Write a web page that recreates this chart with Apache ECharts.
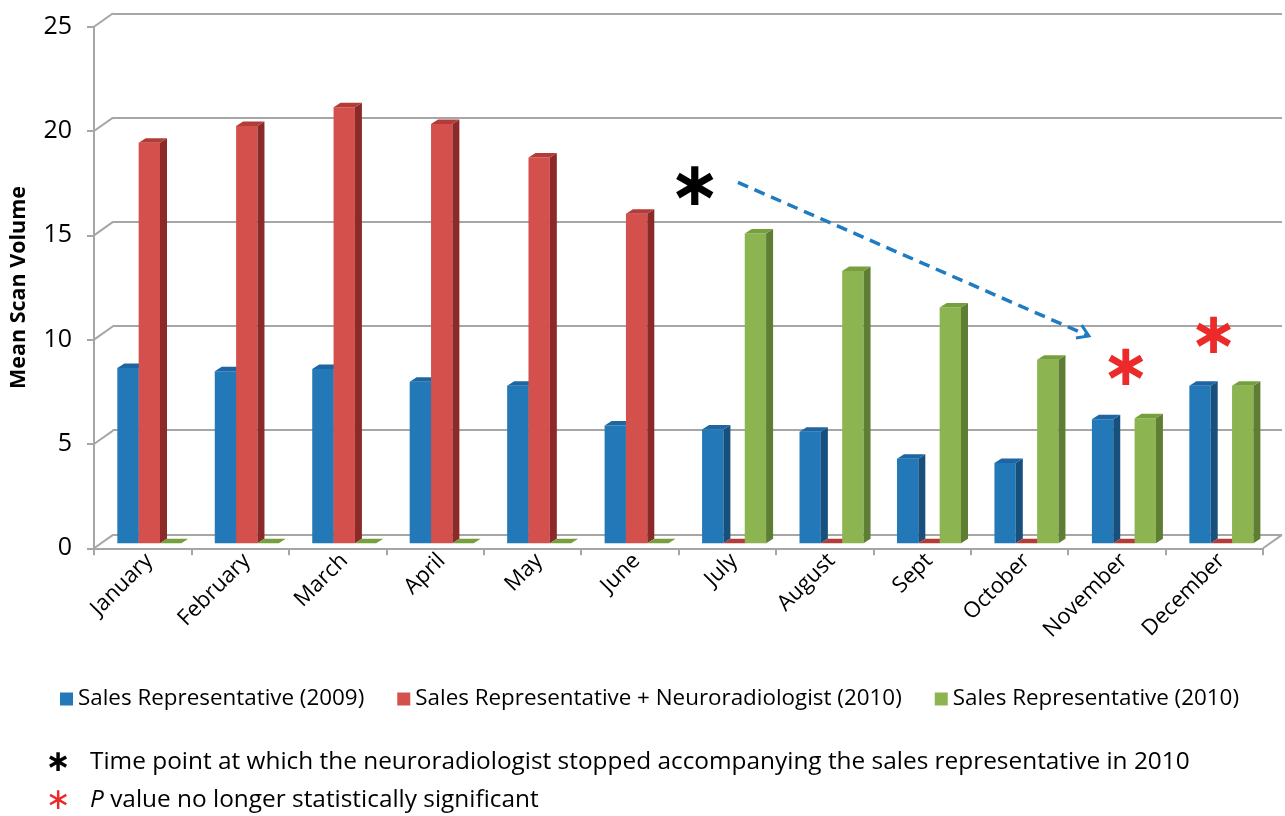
<!DOCTYPE html>
<html><head><meta charset="utf-8">
<script src="https://cdn.jsdelivr.net/npm/echarts@6/dist/echarts.min.js"></script>
<style>html,body{margin:0;padding:0;background:#fff}#c{width:1285px;height:816px}</style>
</head><body><div id="c"></div>
<script>
// ---------- data ----------
const months = ['January','February','March','April','May','June','July','August','Sept','October','November','December'];
const rep2009 = [8.4, 8.25, 8.35, 7.75, 7.55, 5.65, 5.45, 5.35, 4.05, 3.85, 5.95, 7.55];
const repNeuro2010 = [19.2, 20.0, 20.9, 20.1, 18.5, 15.8, 0, 0, 0, 0, 0, 0];
const rep2010 = [0, 0, 0, 0, 0, 0, 14.85, 13.05, 11.3, 8.8, 6.0, 7.55];
const seriesNames = ['Sales Representative (2009)', 'Sales Representative + Neuroradiologist (2010)', 'Sales Representative (2010)'];
const yTicks = [0, 5, 10, 15, 20, 25];
const yTitle = 'Mean Scan Volume';
const note1 = 'Time point at which the neuroradiologist stopped accompanying the sales representative in 2010';
const note2 = ' value no longer statistically significant';
// annotation anchors (category index, value)
const stopMark = [5.6, 17.0];
const arrowFrom = [6.04, 17.3];
const arrowTo = [9.64, 9.94];
const redMarks = [[10.02, 8.3], [10.92, 9.84]];

// ---------- styles ----------
const FONT = 'Open Sans';
const GRAY = '#a6a6a6';
const palette = [
  {front:'#2379b7', side:'#17507d', top:'#1d66a3'},
  {front:'#d4504d', side:'#8b2a29', top:'#b33c39'},
  {front:'#8cb451', side:'#5e7e34', top:'#75a03d'}
];
const BAR_RATIO = 0.219, BAR_DX = 7, BAR_DY = 4.5;
const WALL_DX = 19, WALL_DY = 13.4;

function barRender(k){
  const c = palette[k];
  return function(params, api){
    const idx = api.value(0), v = api.value(1);
    const base = api.coord([idx, 0]);
    const top = api.coord([idx, v]);
    const band = api.size([1, 0])[0];
    const w = band * BAR_RATIO;
    const x0 = base[0] + (k - 1.5) * w, x1 = x0 + w;
    const yb = base[1], yt = top[1];
    const ch = [];
    if (yb - yt > 0.5) {
      ch.push({type:'rect', shape:{x:x0, y:yt, width:w, height:yb-yt}, style:{fill:c.front}});
      ch.push({type:'polygon', shape:{points:[[x1,yt],[x1+BAR_DX,yt-BAR_DY],[x1+BAR_DX,yb-BAR_DY],[x1,yb]]}, style:{fill:c.side}});
    }
    ch.push({type:'polygon', shape:{points:[[x0,yt],[x1,yt],[x1+BAR_DX,yt-BAR_DY],[x0+BAR_DX,yt-BAR_DY]]}, style:{fill:c.top}});
    return {type:'group', children:ch};
  };
}

function wallRender(params, api){
  const v = api.value(1);
  const p = api.coord([0, v]);
  const band = api.size([1, 0])[0];
  const left = p[0] - band / 2;
  const ls = {stroke: GRAY, lineWidth: 2};
  const ch = [{type:'line', shape:{x1:left, y1:p[1], x2:left+WALL_DX, y2:p[1]-WALL_DY}, style:ls}];
  if (v === 0) {
    const right = api.coord([months.length - 1, 0])[0] + band / 2;
    ch.push({type:'line', shape:{x1:right, y1:p[1], x2:right+WALL_DX, y2:p[1]-WALL_DY}, style:ls});
  }
  return {type:'group', children:ch};
}

const series = [rep2009, repNeuro2010, rep2010].map((arr, k) => ({
  type:'custom', name: seriesNames[k], xAxisIndex:0, yAxisIndex:0,
  renderItem: barRender(k), itemStyle:{color: palette[k].front},
  data: arr.map((v, i) => [i, v]), encode:{x:0, y:1}, z: 3
}));
series.unshift({
  type:'custom', name:'wall', xAxisIndex:1, yAxisIndex:1, renderItem: wallRender,
  data: yTicks.map(v => [0, v]), encode:{x:0, y:1}, z: 1, silent:true
});

const chart = echarts.init(document.getElementById('c'), null, {renderer:'canvas'});
const option = {
  backgroundColor:'#fff',
  animation:false,
  textStyle:{fontFamily:FONT},
  grid:[
    {left:100.6, top:21.8, width:1169.5, height:521.5},
    {left:93.5, top:26.7, width:1169.5, height:521.6},
    {left:112.5, top:13.3, width:1169.5, height:521}
  ],
  xAxis:[
    {type:'category', data:months, gridIndex:0,
      axisLine:{show:false}, axisTick:{show:false}, splitLine:{show:false},
      axisLabel:{rotate:45, fontSize:22, fontFamily:FONT, color:'#000', margin:14}},
    {type:'category', data:months, gridIndex:1,
      axisLine:{lineStyle:{color:GRAY, width:2}},
      axisTick:{show:true, length:7, lineStyle:{color:GRAY, width:2}},
      axisLabel:{show:false}},
    {type:'category', data:months, gridIndex:2, show:false}
  ],
  yAxis:[
    {type:'value', gridIndex:0, min:0, max:25, interval:5, show:false},
    {type:'value', gridIndex:1, min:0, max:25, interval:5,
      axisLine:{show:true, lineStyle:{color:GRAY, width:2}},
      axisTick:{show:true, length:7, lineStyle:{color:GRAY, width:2}},
      axisLabel:{fontSize:25, fontFamily:FONT, color:'#000', margin:22},
      splitLine:{show:false},
      name: yTitle, nameLocation:'middle', nameGap:64,
      nameTextStyle:{fontSize:21.5, fontWeight:'bold', fontFamily:FONT, color:'#000'}},
    {type:'value', gridIndex:2, min:0, max:25, interval:5,
      axisLine:{show:false}, axisTick:{show:false}, axisLabel:{show:false},
      splitLine:{show:true, lineStyle:{color:GRAY, width:2}}}
  ],
  legend:{
    data: seriesNames, left:55, top:683, icon:'rect', itemWidth:13, itemHeight:13, itemGap:33, itemStyle:{borderWidth:0},
    textStyle:{fontSize:22.4, fontFamily:FONT, color:'#000'}, selectedMode:false
  },
  series: series
};
chart.setOption(option);

function px(pt){
  const a = chart.convertToPixel({gridIndex:0}, [0, pt[1]]);
  const b = chart.convertToPixel({gridIndex:0}, [1, pt[1]]);
  return [a[0] + (b[0] - a[0]) * pt[0], a[1]];
}
const s = px(stopMark), af = px(arrowFrom), at = px(arrowTo);
const ang = Math.atan2(at[1]-af[1], at[0]-af[0]);
const AH = 13, AA = Math.PI/5.5;
const graphics = [
  {type:'text', x:s[0], y:s[1], style:{text:'∗', font:'bold 62px "DejaVu Sans"', fill:'#000', align:'center', verticalAlign:'middle'}},
  {type:'line', shape:{x1:af[0], y1:af[1], x2:at[0], y2:at[1]}, style:{stroke:'#1f7bc2', lineWidth:3.5, lineDash:[11,7]}},
  {type:'polyline', shape:{points:[
    [at[0]-AH*Math.cos(ang-AA), at[1]-AH*Math.sin(ang-AA)], at,
    [at[0]-AH*Math.cos(ang+AA), at[1]-AH*Math.sin(ang+AA)]]}, style:{stroke:'#1f7bc2', lineWidth:3, fill:null}}
];
redMarks.forEach(m => {
  const p = px(m);
  graphics.push({type:'text', x:p[0], y:p[1], style:{text:'∗', font:'bold 58px "DejaVu Sans"', fill:'#ec2a2a', align:'center', verticalAlign:'middle'}});
});
graphics.push(
  {type:'text', x:58, y:763, style:{text:'∗', font:'bold 30px "DejaVu Sans"', fill:'#000', align:'center', verticalAlign:'middle'}},
  {type:'text', x:90, y:762, style:{text:note1, font:'24.4px "Open Sans"', fill:'#000', verticalAlign:'middle'}},
  {type:'text', x:58, y:801, style:{text:'∗', font:'30px "DejaVu Sans"', fill:'#ec2a2a', align:'center', verticalAlign:'middle'}},
  {type:'text', x:90, y:800, style:{text:'{i|P}' + note2, font:'24.4px "Open Sans"', fill:'#000', verticalAlign:'middle',
     rich:{i:{fontStyle:'italic', fontSize:24.4, fontFamily:'Open Sans'}}}}
);
chart.setOption({graphic: graphics});
</script>
</body></html>
